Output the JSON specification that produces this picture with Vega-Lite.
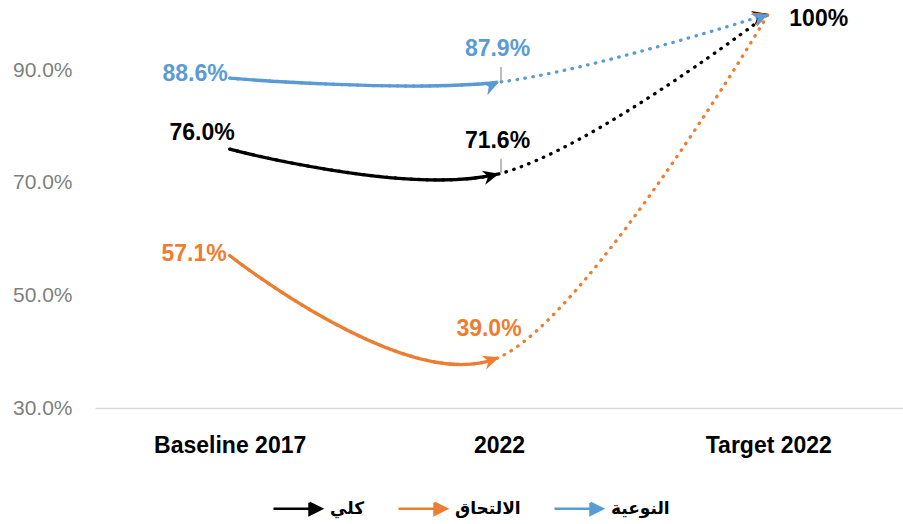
{
  "$schema": "https://vega.github.io/schema/vega-lite/v6.json",
  "width": 808,
  "height": 394,
  "autosize": {"type": "none"},
  "padding": {"left": 95, "top": 14, "right": 0, "bottom": 116},
  "background": "white",
  "config": {"view": {"stroke": null}, "font": "Liberation Sans"},
  "data": {
    "values": [
      {"series": "كلي", "period": "Baseline 2017", "value": 76.0},
      {"series": "كلي", "period": "2022", "value": 71.6},
      {"series": "كلي", "period": "Target 2022", "value": 100},
      {"series": "الالتحاق", "period": "Baseline 2017", "value": 57.1},
      {"series": "الالتحاق", "period": "2022", "value": 39.0},
      {"series": "الالتحاق", "period": "Target 2022", "value": 100},
      {"series": "النوعية", "period": "Baseline 2017", "value": 88.6},
      {"series": "النوعية", "period": "2022", "value": 87.9},
      {"series": "النوعية", "period": "Target 2022", "value": 100}
    ]
  },
  "encoding": {
    "x": {
      "field": "period",
      "type": "nominal",
      "sort": ["Baseline 2017", "2022", "Target 2022"],
      "scale": {"type": "point", "padding": 0.5},
      "axis": {
        "title": null,
        "labelAngle": 0,
        "labelFont": "Liberation Sans",
        "labelFontWeight": "bold",
        "labelFontSize": 23,
        "labelColor": "#000000",
        "labelPadding": 26,
        "ticks": false,
        "tickSize": 0,
        "grid": false,
        "domainColor": "#d9d9d9",
        "domainWidth": 1.5
      }
    },
    "y": {
      "field": "value",
      "type": "quantitative",
      "scale": {"domain": [30, 100], "nice": false, "zero": false},
      "axis": {
        "title": null,
        "values": [30, 50, 70, 90],
        "labelExpr": "format(datum.value, '.1f') + '%'",
        "labelFont": "Liberation Sans",
        "labelFontSize": 21,
        "labelColor": "#7f7f7f",
        "labelPadding": 23,
        "ticks": false,
        "tickSize": 0,
        "domain": false,
        "grid": false
      }
    },
    "color": {
      "field": "series",
      "type": "nominal",
      "scale": {"domain": ["كلي", "الالتحاق", "النوعية"], "range": ["#000000", "#ED7D31", "#5B9BD5"]},
      "legend": {
        "title": null,
        "orient": "none",
        "legendX": 177,
        "legendY": 469,
        "direction": "horizontal",
        "symbolType": "M-1,0L0.55,0M0.5,-0.25L1,0L0.5,0.25Z",
        "symbolSize": 2304,
        "symbolStrokeWidth": 2.5,
        "labelFont": "DejaVu Sans",
        "labelFontWeight": "bold",
        "labelFontSize": 17,
        "labelColor": "#000000",
        "labelOffset": 7,
        "columnPadding": 28,
        "encode": {
          "symbols": {
            "update": {
              "fill": {"scale": "color", "field": "value"},
              "stroke": {"scale": "color", "field": "value"},
              "opacity": {"value": 1}
            }
          }
        }
      }
    }
  },
  "layer": [
    {
      "mark": {"type": "line", "interpolate": "cardinal", "strokeWidth": 3.3, "strokeDash": [0.5, 7.5], "strokeCap": "round"},
      "encoding": {"order": {"value": null}}
    },
    {
      "mark": {"type": "line", "interpolate": "cardinal", "strokeWidth": 3.3, "strokeCap": "butt"},
      "encoding": {
        "order": {"value": null},
        "strokeDash": {
          "field": "series",
          "type": "nominal",
          "scale": {"domain": ["كلي", "الالتحاق", "النوعية"], "range": [[271, 3000], [295, 3000], [268.5, 3000]]},
          "legend": null
        }
      }
    },
    {
      "transform": [{"filter": "datum.period == '2022'"}],
      "mark": {"type": "point", "shape": "M0,0L-1,-0.45L-0.7,0L-1,0.45Z", "filled": true, "opacity": 1, "size": 1024},
      "encoding": {
        "angle": {
          "field": "series",
          "type": "nominal",
          "scale": {"domain": ["كلي", "الالتحاق", "النوعية"], "range": [345.9, 335.9, 353.2]},
          "legend": null
        }
      }
    },
    {
      "transform": [{"filter": "datum.period == 'Target 2022'"}],
      "mark": {"type": "point", "shape": "M0,0L-1,-0.45L-0.7,0L-1,0.45Z", "filled": true, "opacity": 1, "size": 1024},
      "encoding": {
        "angle": {
          "field": "series",
          "type": "nominal",
          "scale": {"domain": ["كلي", "الالتحاق", "النوعية"], "range": [322.6, 300.6, 342.3]},
          "legend": null
        }
      }
    },
    {
      "transform": [{"filter": "datum.period == '2022' && datum.series != 'الالتحاق'"}],
      "mark": {"type": "rule", "strokeWidth": 1.5, "yOffset": -15, "y2Offset": -1, "xOffset": 2},
      "encoding": {"y2": {"field": "value"}, "color": {"value": "#a6a6a6"}}
    },
    {
      "transform": [{"filter": "datum.period == 'Baseline 2017' && datum.series == 'النوعية'"}],
      "mark": {"type": "text", "align": "right", "baseline": "alphabetic", "dx": -2, "dy": 3, "font": "Liberation Sans", "fontWeight": "bold", "fontSize": 23, "text": {"expr": "format(datum.value, '.1f') + '%'"}}
    },
    {
      "transform": [{"filter": "datum.period == 'Baseline 2017' && datum.series == 'الالتحاق'"}],
      "mark": {"type": "text", "align": "right", "baseline": "alphabetic", "dx": -3, "dy": 6, "font": "Liberation Sans", "fontWeight": "bold", "fontSize": 23, "text": {"expr": "format(datum.value, '.1f') + '%'"}}
    },
    {
      "transform": [{"filter": "datum.period == 'Baseline 2017' && datum.series == 'كلي'"}],
      "mark": {"type": "text", "align": "right", "baseline": "alphabetic", "dx": 5, "dy": -9, "font": "Liberation Sans", "fontWeight": "bold", "fontSize": 23, "text": {"expr": "format(datum.value, '.1f') + '%'"}}
    },
    {
      "transform": [{"filter": "datum.period == '2022' && datum.series != 'الالتحاق'"}],
      "mark": {"type": "text", "align": "center", "baseline": "alphabetic", "dx": -1.5, "dy": -26, "font": "Liberation Sans", "fontWeight": "bold", "fontSize": 23, "text": {"expr": "format(datum.value, '.1f') + '%'"}}
    },
    {
      "transform": [{"filter": "datum.period == '2022' && datum.series == 'الالتحاق'"}],
      "mark": {"type": "text", "align": "center", "baseline": "alphabetic", "dx": -10, "dy": -21, "font": "Liberation Sans", "fontWeight": "bold", "fontSize": 23, "text": {"expr": "format(datum.value, '.1f') + '%'"}}
    },
    {
      "transform": [{"filter": "datum.period == 'Target 2022' && datum.series == 'كلي'"}],
      "mark": {"type": "text", "align": "left", "baseline": "alphabetic", "dx": 21, "dy": 12, "font": "Liberation Sans", "fontWeight": "bold", "fontSize": 23, "text": {"expr": "format(datum.value, '.0f') + '%'"}}
    }
  ]
}
